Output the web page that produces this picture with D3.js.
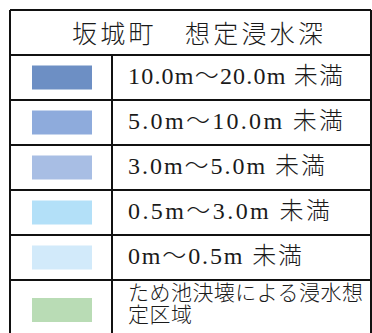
<!DOCTYPE html>
<html><head><meta charset="utf-8">
<script src="https://cdn.jsdelivr.net/npm/d3@7"></script>
<style>html,body{margin:0;padding:0;background:#fff;overflow:hidden}</style>
</head><body>
<svg id="c" width="372" height="333"></svg>
<script>
const title = "坂城町　想定浸水深";
const categories = ["10.0m～20.0m 未満","5.0m～10.0m 未満","3.0m～5.0m 未満","0.5m～3.0m 未満","0m～0.5m 未満","ため池決壊による浸水想定区域"];
const categoryLines = [["10.0m～20.0m 未満"],["5.0m～10.0m 未満"],["3.0m～5.0m 未満"],["0.5m～3.0m 未満"],["0m～0.5m 未満"],["ため池決壊による浸水想","定区域"]];
const colors = ["#6d8fc4","#8eabdc","#a8bee4","#b3e0f8","#d2eafa","#b9dcb5"];
const textWidths = [215,215,197,202,174];

const svg = d3.select("#c");
const L = 10, R = 371, T = 10, headerH = 45, rowH = 45, lastH = 60, divX = 112;
const font = "'Liberation Serif','Noto Sans CJK JP',serif";
const y = d3.scaleLinear().domain([0,1]).range([T+headerH, T+headerH+rowH]);
const color = d3.scaleOrdinal().domain(categories).range(colors);
const rowTop = i => y(i);
const rowBot = i => i === categories.length-1 ? y(i)+lastH : y(i+1);

svg.append("rect").attr("width",372).attr("height",333).attr("fill","#fff");

const rows = svg.selectAll("g.row").data(categories).join("g").attr("class","row");
rows.append("rect")
  .attr("x", 32).attr("width", 60).attr("height", 24)
  .attr("y", (d,i) => (rowTop(i)+rowBot(i))/2 - 12)
  .attr("fill", d => color(d));

rows.each(function(d,i){
  const g = d3.select(this);
  const lines = categoryLines[i];
  const cy = (rowTop(i)+rowBot(i))/2;
  if (lines.length === 1) {
    g.append("text").attr("x",128).attr("y",cy-2)
      .attr("dominant-baseline","central")
      .attr("font-family",font).attr("font-size",24).attr("font-weight",300).attr("fill","#1a1a1a")
      .attr("textLength",textWidths[i]).attr("lengthAdjust","spacing")
      .text(lines[0]);
  } else {
    g.append("text").attr("x",128).attr("y",cy-17)
      .attr("dominant-baseline","central")
      .attr("font-family",font).attr("font-size",21).attr("font-weight",300).attr("fill","#1a1a1a")
      .attr("textLength",235).attr("lengthAdjust","spacing")
      .text(lines[0]);
    g.append("text").attr("x",128).attr("y",cy+5)
      .attr("dominant-baseline","central")
      .attr("font-family",font).attr("font-size",21).attr("font-weight",300).attr("fill","#1a1a1a")
      .attr("textLength",64).attr("lengthAdjust","spacing")
      .text(lines[1]);
  }
});

svg.append("text").attr("x",72).attr("y",T+headerH/2+2)
  .attr("dominant-baseline","central")
  .attr("font-family",font).attr("font-size",25).attr("font-weight",300).attr("fill","#1a1a1a")
  .attr("textLength",251).attr("lengthAdjust","spacing")
  .text(title);

const bottom = rowBot(categories.length-1);
const lines = svg.append("g").attr("stroke","#111").attr("stroke-width",2).attr("fill","none");
lines.append("line").attr("x1",L).attr("x2",L).attr("y1",T).attr("y2",bottom);
lines.append("line").attr("x1",R).attr("x2",R).attr("y1",T).attr("y2",bottom);
lines.append("line").attr("x1",L).attr("x2",R).attr("y1",T).attr("y2",T);
lines.append("line").attr("x1",divX).attr("x2",divX).attr("y1",T+headerH).attr("y2",bottom);
categories.forEach((c,i)=>{
  lines.append("line").attr("x1",L).attr("x2",R).attr("y1",rowTop(i)).attr("y2",rowTop(i));
});
lines.append("line").attr("x1",L).attr("x2",R).attr("y1",bottom).attr("y2",bottom);
</script>
</body></html>
